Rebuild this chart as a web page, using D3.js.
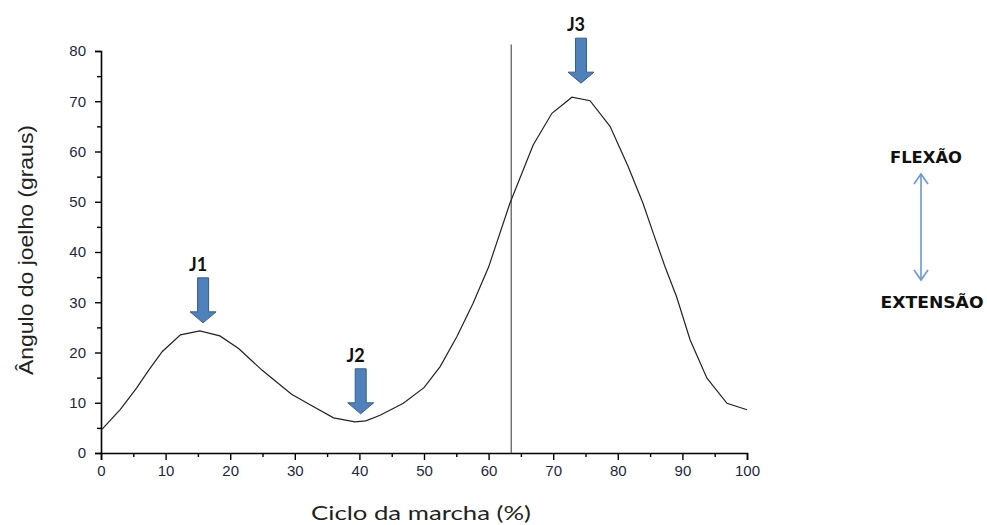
<!DOCTYPE html>
<html>
<head>
<meta charset="utf-8">
<script src="https://cdn.jsdelivr.net/npm/d3@7"></script>
<style>
  html, body { margin: 0; padding: 0; background: #fff; }
  svg { display: block; }
</style>
</head>
<body>
<svg id="chart" width="987" height="525"></svg>
<script>
// Gait cycle (%) and knee angle (degrees)
const cycle = [0, 3, 5.5, 7.5, 9.5, 12.3, 15.3, 18.4, 21.3, 25, 29.5, 32.5, 36, 39.3, 41, 43.2, 46.8, 50,
  52.5, 55.1, 57.6, 60, 63.3, 66.9, 69.8, 72.9, 75.7, 78.8, 81.6, 83.9, 85.5, 87.3, 89.1, 91.2, 93.8, 96.9, 100];
const angle = [4.5, 8.7, 12.9, 16.7, 20.2, 23.5, 24.3, 23.3, 20.8, 16.4, 11.7, 9.5, 7.0, 6.2, 6.4, 7.5, 9.9, 13.0,
  17.2, 23.2, 29.8, 37.0, 49.7, 61.3, 67.6, 70.8, 70.1, 65.0, 57.0, 49.7, 43.7, 37.1, 31.1, 22.5, 14.9, 9.9, 8.6];

const xTicks = [0, 10, 20, 30, 40, 50, 60, 70, 80, 90, 100];
const yTicks = [0, 10, 20, 30, 40, 50, 60, 70, 80];

// Events marked on the curve
const eventNames = ["J1", "J2", "J3"];
const eventCycle = [15.8, 40.2, 74.3];
const eventAngle = [25.9, 7.8, 73.6];

// Toe-off divider (swing phase starts)
const toeOff = 63.5;

const svg = d3.select("#chart");
const m = { left: 101, top: 51, right: 240, bottom: 72 };
const W = 987 - m.left - m.right;   // 646
const H = 525 - m.top - m.bottom;   // 402

const x = d3.scaleLinear().domain([0, 100]).range([m.left, m.left + W]);
const y = d3.scaleLinear().domain([0, 80]).range([m.top + H, m.top]);

const tickFont = "'Liberation Sans', Arial, sans-serif";
const labelColor = "#1c2840";

// minor ticks every 5
const minorX = d3.range(5, 100, 10);
const minorY = d3.range(5, 80, 10);

// X axis
const gx = svg.append("g").attr("transform", `translate(0,${m.top + H})`);
gx.call(d3.axisBottom(x).tickValues(xTicks).tickSize(7).tickPadding(5).tickFormat(d3.format("d")));
gx.append("g").call(d3.axisBottom(x).tickValues(minorX).tickSize(4).tickFormat(""))
  .select(".domain").remove();

// Y axis
const gy = svg.append("g").attr("transform", `translate(${m.left},0)`);
gy.call(d3.axisLeft(y).tickValues(yTicks).tickSize(6).tickPadding(9).tickFormat(d3.format("d")));
gy.append("g").call(d3.axisLeft(y).tickValues(minorY).tickSize(4).tickFormat(""))
  .select(".domain").remove();

svg.selectAll(".domain").attr("stroke", "#000").attr("stroke-width", 1.6);
svg.selectAll(".tick line").attr("stroke", "#000").attr("stroke-width", 1.4);
svg.selectAll(".tick text")
  .attr("font-family", tickFont)
  .attr("font-size", 15)
  .attr("fill", labelColor);

// Toe-off line
svg.append("line")
  .attr("x1", x(toeOff)).attr("x2", x(toeOff))
  .attr("y1", y(0)).attr("y2", y(81.3))
  .attr("stroke", "#444").attr("stroke-width", 1.1);

// Knee angle curve
const pts = cycle.map((c, i) => [c, angle[i]]);
svg.append("path")
  .datum(pts)
  .attr("fill", "none")
  .attr("stroke", "#222")
  .attr("stroke-width", 1.2)
  .attr("d", d3.line().x(d => x(d[0])).y(d => y(d[1])));

// Block arrows pointing at the events
const arrowLen = 45, shaftW = 11, headW = 26, headH = 11;
function blockArrow(cx, tipY) {
  const top = tipY - arrowLen, neck = tipY - headH;
  return `M${cx - shaftW / 2},${top} L${cx + shaftW / 2},${top} L${cx + shaftW / 2},${neck}
          L${cx + headW / 2},${neck} L${cx},${tipY} L${cx - headW / 2},${neck}
          L${cx - shaftW / 2},${neck} Z`;
}
const ev = svg.append("g");
eventNames.forEach((name, i) => {
  const cx = x(eventCycle[i]), tipY = y(eventAngle[i]);
  ev.append("path")
    .attr("d", blockArrow(cx, tipY))
    .attr("fill", "#4f81bd")
    .attr("stroke", "#385d8a")
    .attr("stroke-width", 1);
  ev.append("text")
    .attr("x", cx - 5)
    .attr("y", tipY - arrowLen - 7)
    .attr("text-anchor", "middle")
    .attr("font-family", "Lato, 'Open Sans', sans-serif")
    .attr("font-weight", "bold")
    .attr("font-size", 18)
    .attr("fill", "#111")
    .text(name);
});

// Axis titles
svg.append("text")
  .attr("x", 421).attr("y", 520)
  .attr("text-anchor", "middle")
  .attr("font-family", "Lato, 'Open Sans', sans-serif")
  .attr("font-size", 20)
  .attr("fill", "#222")
  .attr("textLength", 220)
  .attr("lengthAdjust", "spacingAndGlyphs")
  .text("Ciclo da marcha (%)");

svg.append("text")
  .attr("transform", "translate(33,250) rotate(-90)")
  .attr("text-anchor", "middle")
  .attr("font-family", "'Liberation Sans', Arial, sans-serif")
  .attr("font-size", 20)
  .attr("fill", "#222")
  .attr("textLength", 250)
  .attr("lengthAdjust", "spacingAndGlyphs")
  .text("Ângulo do joelho (graus)");

// Flexion / extension direction key
const key = svg.append("g");
const kx = 921, kTop = 174, kBot = 280;
key.append("line")
  .attr("x1", kx).attr("x2", kx).attr("y1", kTop).attr("y2", kBot)
  .attr("stroke", "#6a98d4").attr("stroke-width", 1.6);
key.append("path")
  .attr("d", `M${kx - 7},${kTop + 10} L${kx},${kTop} L${kx + 7},${kTop + 10}
              M${kx - 7},${kBot - 10} L${kx},${kBot} L${kx + 7},${kBot - 10}`)
  .attr("fill", "none")
  .attr("stroke", "#6a98d4").attr("stroke-width", 1.6);
key.append("text")
  .attr("x", 926).attr("y", 163)
  .attr("text-anchor", "middle")
  .attr("font-family", "'DejaVu Sans', sans-serif")
  .attr("font-weight", "bold")
  .attr("font-size", 15)
  .attr("fill", "#111")
  .attr("textLength", 72)
  .attr("lengthAdjust", "spacingAndGlyphs")
  .text("FLEXÃO");
key.append("text")
  .attr("x", 932).attr("y", 308)
  .attr("text-anchor", "middle")
  .attr("font-family", "'DejaVu Sans', sans-serif")
  .attr("font-weight", "bold")
  .attr("font-size", 15)
  .attr("fill", "#111")
  .attr("textLength", 103)
  .attr("lengthAdjust", "spacingAndGlyphs")
  .text("EXTENSÃO");
</script>
</body>
</html>
